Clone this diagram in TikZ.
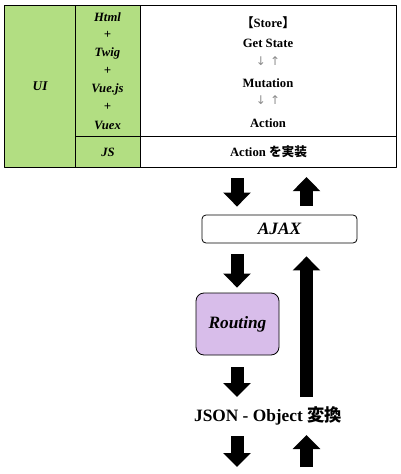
\documentclass[tikz,border=0pt]{standalone}
\usepackage{fontspec}
\setmainfont{Liberation Serif}
\newfontfamily\cjk{Noto Sans CJK JP}
\newfontfamily\symb{DejaVu Sans}
\usetikzlibrary{arrows.meta}
\definecolor{uigreen}{HTML}{B2DE82}
\definecolor{routviolet}{HTML}{D8BDEA}

\begin{document}
\begin{tikzpicture}[x=0.75pt, y=-0.75pt, line join=round,
    cell/.style={draw, line width=0.8pt, inner sep=0pt, anchor=north west},
    green/.style={cell, fill=uigreen},
    lbl/.style={font=\bfseries\itshape\fontsize{9.5}{11}\selectfont, inner sep=0pt},
    bld/.style={font=\bfseries\fontsize{9.5}{11}\selectfont, inner sep=0pt},
    updn/.style={font=\symb\fontsize{9}{10}\selectfont, text=black!45, inner sep=0pt},
    blk/.style={line width=9.75pt, -{Triangle[length=10.5pt,width=20pt]}},
    box/.style={draw, line width=0.6pt, inner sep=0pt, font=\bfseries\itshape\fontsize{13}{15}\selectfont}]
  \useasboundingbox (0,0) rectangle (400,474);
  % table
  \node[green, minimum width=53.25pt, minimum height=121.5pt] (ui) at (4,5) {};
  \node[green, minimum width=48.75pt, minimum height=98.25pt] (view) at (75,5) {};
  \node[green, minimum width=48.75pt, minimum height=23.25pt] (js) at (75,136) {};
  \node[cell, minimum width=192pt, minimum height=98.25pt] (store) at (140,5) {};
  \node[cell, minimum width=192pt, minimum height=23.25pt] (act) at (140,136) {};
  \node[lbl, font=\bfseries\itshape\fontsize{10}{12}\selectfont] (uiT) at (ui.center) {UI};
  \foreach \t [count=\i] in {Html,+,Twig,+,Vue.js,+,Vuex}
    \node[lbl] (v\i) at (107.5,{17+18*(\i-1)}) {\t};
  \node[lbl] (jsT) at (js.center) {JS};
  % store
  \node[bld] (st) at (268,23) {{\cjk 【}Store{\cjk 】}};
  \node[bld] (gs) at (268,43) {Get State};
  \node[updn] (ud1) at (268,61) {↓\,\,↑};
  \node[bld] (mu) at (268,83) {Mutation};
  \node[updn] (ud2) at (268,100) {↓\,\,↑};
  \node[bld] (ac) at (268,123) {Action};
  \node[bld] (impl) at (act.center) {Action {\cjk を実装}};
  % flow
  \node[box, rounded corners=3pt, minimum width=116.25pt, minimum height=21pt] (ajax) at (279.5,229) {AJAX};
  \node[box, fill=routviolet, rounded corners=6pt, minimum width=62.25pt, minimum height=46.5pt] (rout) at (237.5,324) {Routing};
  \node[anchor=base, inner sep=0pt, font=\bfseries\fontsize{13}{15}\selectfont] (json) at (268,421) {JSON - Object {\cjk 変換}};
  \coordinate (dn) at (237,0);
  \coordinate (up) at (306.5,0);
  \coordinate (bot) at (0,467);
  \draw[blk, shorten <=7.5pt, shorten >=6pt] (dn |- act.south) -- (dn |- ajax.north);
  \draw[blk, shorten <=6.75pt, shorten >=6.75pt] (up |- ajax.north) -- (up |- act.south);
  \draw[blk, shorten <=8.25pt, shorten >=3.75pt] (dn |- ajax.south) -- (dn |- rout.north);
  \draw[blk, shorten <=18pt, shorten >=9.75pt] (up |- json.base) -- (up |- ajax.south);
  \draw[blk, shorten <=9pt, shorten >=18pt] (dn |- rout.south) -- (dn |- json.base);
  \draw[blk, shorten <=11.25pt] (dn |- json.base) -- (dn |- bot);
  \draw[blk, shorten >=10.5pt] (up |- bot) -- (up |- json.base);
\end{tikzpicture}
\end{document}
